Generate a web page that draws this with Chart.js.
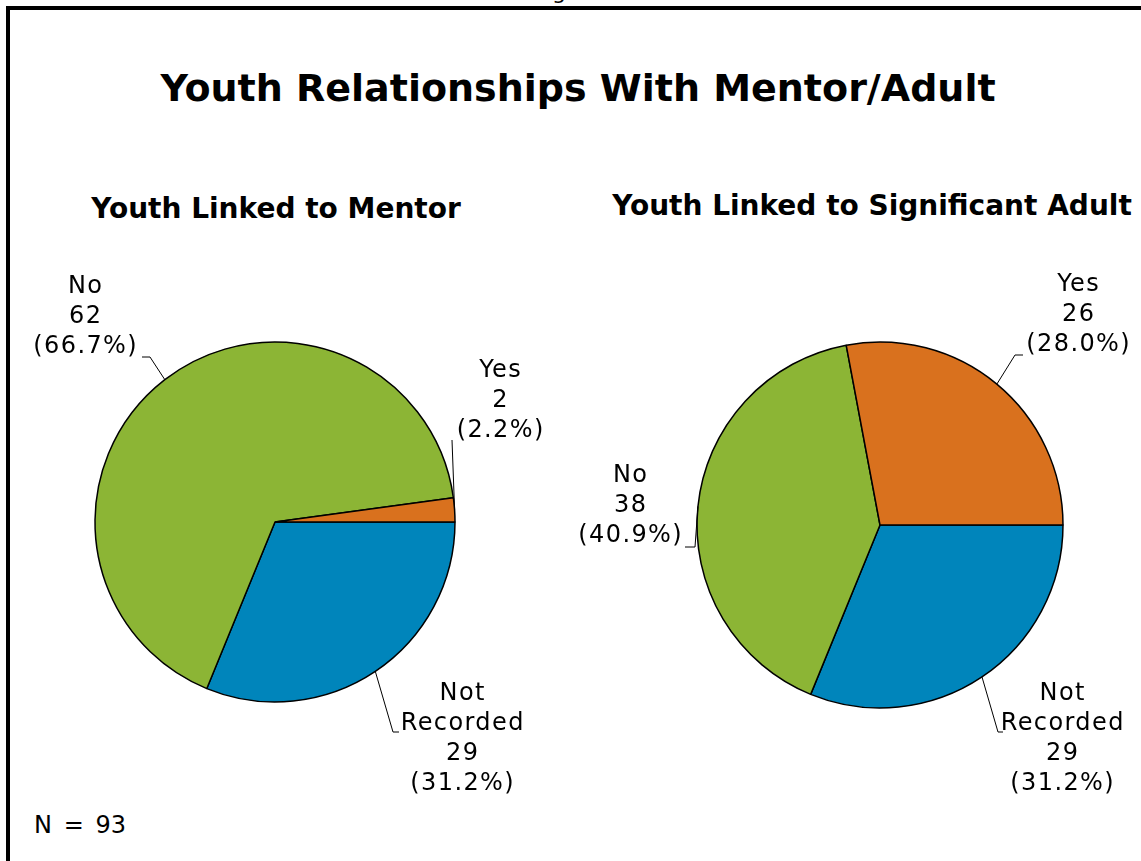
<!DOCTYPE html>
<html lang="en">
<head>
    <meta charset="UTF-8">
    <title>Youth Relationships With Mentor/Adult</title>
    <script src="https://cdn.jsdelivr.net/npm/chart.js"></script>
    <style>
        body { margin: 0; background: #fff; font-family: "DejaVu Sans", Verdana, sans-serif; }
        #page { position: relative; width: 1141px; height: 861px; overflow: hidden; }
        #frame { position: absolute; left: 6px; top: 6px; width: 1200px; height: 900px;
                 border-left: 4px solid #000; border-top: 4px solid #000; }
        .txt { position: absolute; white-space: nowrap; color: #000; transform: translate(-50%, -50%); }
        canvas { position: absolute; left: 0; top: 0; }
    </style>
</head>
<body>
<div id="page">
    <div class="txt" style="left:559px; top:-9px; font-size:22px;">g</div>
    <div id="frame"></div>
    <div class="txt" style="left:578px; top:88px; font-size:38px; font-weight:bold;">Youth Relationships With Mentor/Adult</div>
    <div class="txt" style="left:276px; top:208px; font-size:28px; font-weight:bold;">Youth Linked to Mentor</div>
    <div class="txt" style="left:872px; top:205px; font-size:28px; font-weight:bold;">Youth Linked to Significant Adult</div>
    <div class="txt" style="left:80px; top:825px; font-size:24px; word-spacing:4px;">N = 93</div>
    <canvas id="mentorChart" width="1141" height="861"></canvas>
    <canvas id="adultChart" width="1141" height="861"></canvas>
</div>
<script>
    // data
    const sliceLabels = [['Not', 'Recorded'], ['No'], ['Yes']];
    const sliceColors = ['#0085bb', '#8cb535', '#d9711e'];
    const mentorCounts = [29, 62, 2];
    const adultCounts = [29, 38, 26];
    const totalN = 93;

    // where the data labels sit, relative to the pie centre
    // text: centre x / first line y, elbow + end: leader line points
    const mentorLabelPos = [
        { tx: 187, ty: 172, elbow: [118, 210], end: [124, 210] },
        { tx: -190, ty: -235, elbow: [-125, -165], end: [-133, -165] },
        { tx: 225, ty: -151, elbow: [177, -82], end: [177, -82] }
    ];
    const adultLabelPos = [
        { tx: 182, ty: 169, elbow: [118, 207], end: [123, 207] },
        { tx: -250, ty: -49, elbow: [-185, 22], end: [-195, 22] },
        { tx: 198, ty: -240, elbow: [135, -170], end: [143, -170] }
    ];

    const leaderLabels = {
        id: 'leaderLabels',
        afterDatasetsDraw(chart, args, opts) {
            const ctx = chart.ctx;
            const meta = chart.getDatasetMeta(0);
            const values = chart.data.datasets[0].data;
            ctx.save();
            ctx.font = '24px "DejaVu Sans"';
            ctx.letterSpacing = '1.4px';
            ctx.fillStyle = '#000';
            ctx.strokeStyle = '#000';
            ctx.lineWidth = 1;
            ctx.textAlign = 'center';
            ctx.textBaseline = 'middle';
            meta.data.forEach((arc, i) => {
                const p = arc.getProps(['x', 'y', 'startAngle', 'endAngle', 'outerRadius'], true);
                const mid = (p.startAngle + p.endAngle) / 2;
                const pos = opts.positions[i];
                const sx = p.x + Math.cos(mid) * p.outerRadius;
                const sy = p.y + Math.sin(mid) * p.outerRadius;
                ctx.beginPath();
                ctx.moveTo(sx, sy);
                ctx.lineTo(p.x + pos.elbow[0], p.y + pos.elbow[1]);
                ctx.lineTo(p.x + pos.end[0], p.y + pos.end[1]);
                ctx.stroke();
                const pct = (values[i] / totalN * 100).toFixed(1) + '%';
                const lines = [...chart.data.labels[i], String(values[i]), '(' + pct + ')'];
                lines.forEach((line, k) => {
                    ctx.fillText(line, p.x + pos.tx + 0.7, p.y + pos.ty + k * 30);
                });
            });
            ctx.restore();
        }
    };

    function makePie(id, counts, positions, radius, pad) {
        const ctx = document.getElementById(id).getContext('2d');
        return new Chart(ctx, {
            type: 'pie',
            data: {
                labels: sliceLabels,
                datasets: [{
                    data: counts,
                    backgroundColor: sliceColors,
                    borderColor: '#000',
                    borderWidth: 1.5
                }]
            },
            options: {
                responsive: false,
                animation: false,
                rotation: 90,
                radius: radius,
                layout: { padding: pad },
                plugins: {
                    legend: { display: false },
                    tooltip: { enabled: false },
                    leaderLabels: { positions: positions }
                }
            },
            plugins: [leaderLabels]
        });
    }

    makePie('mentorChart', mentorCounts, mentorLabelPos, 180,
        { left: 95, right: 686, top: 342, bottom: 159 });
    makePie('adultChart', adultCounts, adultLabelPos, 183,
        { left: 697, right: 78, top: 342, bottom: 153 });
</script>
</body>
</html>
